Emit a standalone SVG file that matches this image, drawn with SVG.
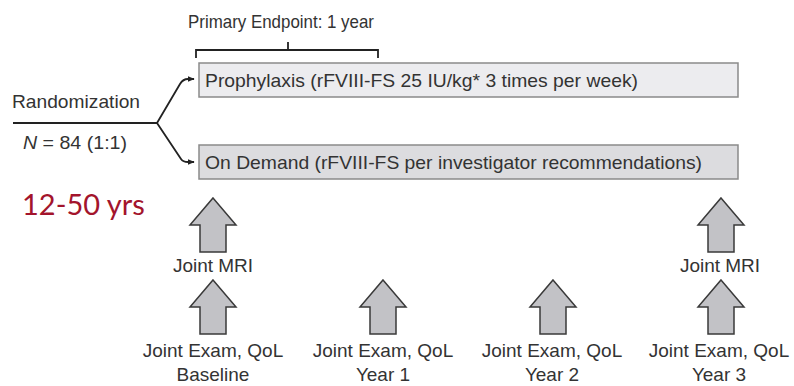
<svg xmlns="http://www.w3.org/2000/svg" width="794" height="386" viewBox="0 0 794 386">
  <defs>
    <style>
      .t { font-family: "Liberation Sans", Arial, sans-serif; fill: #333; font-size: 19px; }
      .mid { text-anchor: middle; }
      .box1 { fill: #ececef; stroke: #8a8a8a; stroke-width: 1.5; }
      .box2 { fill: #dcdcdf; stroke: #8a8a8a; stroke-width: 1.5; }
      .line { fill: none; stroke: #222; stroke-width: 1.8; }
      .up { fill: #c2c2c6; stroke: #3a3a3a; stroke-width: 1.5; stroke-linejoin: miter; }
      .age { font-family: Lato, "Open Sans", sans-serif; font-size: 29px; fill: #a3142c; }
    </style>
    <marker id="head" viewBox="0 0 10 10" refX="9" refY="5" markerWidth="7" markerHeight="7" orient="auto" markerUnits="userSpaceOnUse">
      <path d="M0,1 L10,5 L0,9 Z" fill="#222"/>
    </marker>
    <!-- block arrow pointing up, tip at (0,0) -->
    <path id="blk" d="M0,0 L23,27 L13,27 L13,54 L-13,54 L-13,27 L-23,27 Z"/>
  </defs>

  <!-- endpoint bracket -->
  <g id="endpoint">
    <text class="t" x="188" y="28" textLength="186" lengthAdjust="spacingAndGlyphs">Primary Endpoint: 1 year</text>
    <path class="line" d="M196,58 V50 H378 V58 M288,50 V42"/>
  </g>

  <!-- randomization -->
  <g id="randomization">
    <text class="t" x="12" y="108" textLength="128" lengthAdjust="spacingAndGlyphs">Randomization</text>
    <text class="t" x="23" y="149" textLength="104" lengthAdjust="spacingAndGlyphs"><tspan font-style="italic">N</tspan> = 84 (1:1)</text>
  </g>

  <g id="age">
    <text class="age" x="22" y="215">12-50 yrs</text>
  </g>

  <!-- treatment arms -->
  <g id="prophylaxis">
    <rect class="box1" x="199" y="63" width="539" height="34"/>
    <text class="t" x="205" y="87" textLength="433" lengthAdjust="spacingAndGlyphs">Prophylaxis (rFVIII-FS 25 IU/kg* 3 times per week)</text>
  </g>
  <g id="ondemand">
    <rect class="box2" x="199" y="145" width="539" height="34"/>
    <text class="t" x="205" y="169" textLength="497" lengthAdjust="spacingAndGlyphs">On Demand (rFVIII-FS per investigator recommendations)</text>
  </g>

  <!-- assessments -->
  <g id="baseline">
    <use href="#blk" class="up" x="213" y="198"/>
    <text class="t mid" x="213" y="272">Joint MRI</text>
    <use href="#blk" class="up" x="213" y="280"/>
    <text class="t mid" x="213" y="357">Joint Exam, QoL</text>
    <text class="t mid" x="213" y="381">Baseline</text>
  </g>
  <g id="year1">
    <use href="#blk" class="up" x="383" y="280"/>
    <text class="t mid" x="383" y="357">Joint Exam, QoL</text>
    <text class="t mid" x="383" y="381">Year 1</text>
  </g>
  <g id="year2">
    <use href="#blk" class="up" x="553" y="280"/>
    <text class="t mid" x="552" y="357">Joint Exam, QoL</text>
    <text class="t mid" x="552" y="381">Year 2</text>
  </g>
  <g id="year3">
    <use href="#blk" class="up" x="721" y="198"/>
    <text class="t mid" x="720" y="272">Joint MRI</text>
    <use href="#blk" class="up" x="721" y="280"/>
    <text class="t mid" x="719" y="357">Joint Exam, QoL</text>
    <text class="t mid" x="719" y="381">Year 3</text>
  </g>

  <!-- connectors -->
  <g id="connectors">
    <path class="line" d="M13,123 H157"/>
    <path class="line" d="M157,123 L180,84 Q183,79 188,79 H194" marker-end="url(#head)"/>
    <path class="line" d="M157,123 L181,159 Q183,162 188,162 H194" marker-end="url(#head)"/>
  </g>
</svg>
